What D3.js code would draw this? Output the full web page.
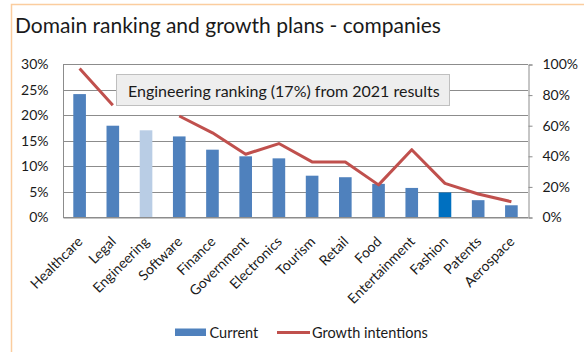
<!DOCTYPE html>
<html>
<head>
<meta charset="utf-8">
<script src="https://cdn.jsdelivr.net/npm/d3@7"></script>
<style>
  html, body { margin: 0; padding: 0; background: #ffffff; }
  svg { display: block; }
  text { font-family: Lato, "Open Sans", sans-serif; fill: #1a1a1a; }
</style>
</head>
<body>
<svg id="chart" width="584" height="352"></svg>
<script>
// Domains, in ranking order
const categories = ["Healthcare", "Legal", "Engineering", "Software", "Finance", "Government",
  "Electronics", "Tourism", "Retail", "Food", "Entertainment", "Fashion", "Patents", "Aerospace"];

// Share of companies currently working in each domain (left axis, %)
const current = [24.1, 17.9, 17, 15.8, 13.2, 11.9, 11.5, 8.1, 7.8, 6.5, 5.7, 4.8, 3.3, 2.3];

// Share of companies planning growth in each domain (right axis, %); Engineering not surveyed
const growth = [97, 73, null, 66, 55, 41, 48, 36, 36, 21, 44, 22, 15, 10];

// Axis tick values
const leftTicks = [0, 5, 10, 15, 20, 25, 30];
const rightTicks = [0, 20, 40, 60, 80, 100];

const titleText = "Domain ranking and growth plans - companies";
const noteText = "Engineering ranking (17%) from 2021 results";
const seriesNames = ["Current", "Growth intentions"];

const colors = {
  bar: "#4f81bd",
  engineering: "#b9cde5",
  fashion: "#0070c0",
  line: "#c0504d",
  grid: "#8c8c8c",
  frame: "#fbcd9f"
};

const svg = d3.select("#chart");

// Outer chart frame
svg.append("rect")
  .attr("x", 11.5).attr("y", 4.5)
  .attr("width", 600).attr("height", 400)
  .attr("fill", "#ffffff")
  .attr("stroke", colors.frame).attr("stroke-width", 1.5);

svg.append("text")
  .attr("x", 15).attr("y", 33)
  .attr("font-size", 21)
  .text(titleText);

const plot = { left: 63, right: 528, top: 64, bottom: 217 };

const x = d3.scaleBand()
  .domain(categories)
  .range([plot.left, plot.right])
  .paddingInner(0.62)
  .paddingOuter(0.31);

const yL = d3.scaleLinear().domain([0, 30]).range([plot.bottom, plot.top]);
const yR = d3.scaleLinear().domain([0, 100]).range([plot.bottom, plot.top]);

// Horizontal gridlines
svg.append("g")
  .selectAll("line")
  .data(leftTicks)
  .join("line")
  .attr("x1", plot.left).attr("x2", plot.right)
  .attr("y1", d => Math.round(yL(d)) + 0.5).attr("y2", d => Math.round(yL(d)) + 0.5)
  .attr("stroke", colors.grid).attr("stroke-width", 1);

// Plot left border
svg.append("line")
  .attr("x1", plot.left + 0.5).attr("x2", plot.left + 0.5)
  .attr("y1", plot.top).attr("y2", plot.bottom + 1)
  .attr("stroke", colors.grid);

// Left axis
const axL = svg.append("g")
  .attr("transform", `translate(${plot.left + 0.5},0.5)`)
  .call(d3.axisLeft(yL).tickValues(leftTicks).tickSize(0).tickPadding(15)
    .tickFormat(d => d + "%"));
axL.select(".domain").remove();
axL.selectAll("text").attr("font-family", "Lato, sans-serif").attr("font-size", 14).attr("fill", "#1a1a1a");

// Right axis
const axR = svg.append("g")
  .attr("transform", `translate(${plot.right + 0.5},0.5)`)
  .call(d3.axisRight(yR).tickValues(rightTicks).tickSizeOuter(0).tickSize(4).tickPadding(10)
    .tickFormat(d => d + "%"));
axR.select(".domain").attr("stroke", colors.grid);
axR.selectAll(".tick line").attr("stroke", colors.grid);
axR.selectAll("text").attr("font-family", "Lato, sans-serif").attr("font-size", 14).attr("fill", "#1a1a1a");

// Bars
svg.append("g")
  .selectAll("rect")
  .data(categories.map((c, i) => ({ c, v: current[i] })))
  .join("rect")
  .attr("x", d => x(d.c))
  .attr("width", x.bandwidth())
  .attr("y", d => yL(d.v))
  .attr("height", d => yL(0) - yL(d.v))
  .attr("fill", d => d.c === "Engineering" ? colors.engineering
                   : d.c === "Fashion" ? colors.fashion : colors.bar);

// Growth intentions line
const lineGen = d3.line()
  .defined(d => d.v !== null)
  .x(d => x(d.c) + x.bandwidth() / 2)
  .y(d => yR(d.v));

svg.append("path")
  .datum(categories.map((c, i) => ({ c, v: growth[i] })))
  .attr("d", lineGen)
  .attr("fill", "none")
  .attr("stroke", colors.line)
  .attr("stroke-width", 3)
  .attr("stroke-linejoin", "round");

// Category labels
const axB = svg.append("g")
  .attr("transform", `translate(0,${plot.bottom + 0.5})`)
  .call(d3.axisBottom(x).tickSize(0).tickPadding(0));
axB.select(".domain").attr("stroke", colors.grid);
axB.selectAll("text")
  .attr("font-family", "Lato, sans-serif")
  .attr("font-size", 14)
  .attr("fill", "#1a1a1a")
  .attr("text-anchor", "end")
  .attr("dy", 0)
  .attr("transform", "translate(4,25) rotate(-45)");

// Note box
const note = svg.append("g");
note.append("rect")
  .attr("x", 116.5).attr("y", 74.5)
  .attr("width", 333).attr("height", 31)
  .attr("fill", "#eeeeee")
  .attr("stroke", "#bfbfbf");
note.append("text")
  .attr("x", 128).attr("y", 96.5)
  .attr("font-size", 16)
  .text(noteText);

// Legend
const leg = svg.append("g");
leg.append("rect")
  .attr("x", 175).attr("y", 328.5)
  .attr("width", 31).attr("height", 7.5)
  .attr("fill", colors.bar);
leg.append("text")
  .attr("x", 209.5).attr("y", 337.5)
  .attr("font-size", 14.5)
  .text(seriesNames[0]);
leg.append("line")
  .attr("x1", 277).attr("x2", 310)
  .attr("y1", 332.5).attr("y2", 332.5)
  .attr("stroke", colors.line).attr("stroke-width", 3);
leg.append("text")
  .attr("x", 312).attr("y", 337.5)
  .attr("font-size", 14.5)
  .text(seriesNames[1]);
</script>
</body>
</html>
